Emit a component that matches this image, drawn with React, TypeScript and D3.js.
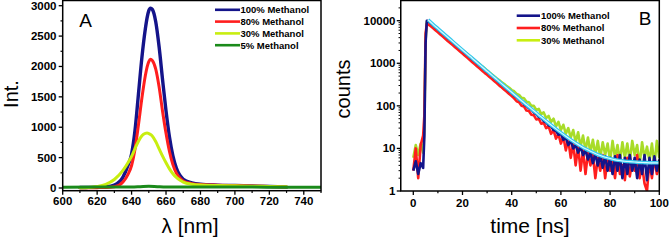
import React from "react";
import * as d3 from "d3";

// ---------- Panel A data ----------
const WL = [610,615,620,625,630,635,638,640,642,644,646,648,649,650,651,652,654,656,658,660,662,664,666,668,670,675,680,690,700,710,720,730];
const M100 = [8,10,12,20,50,180,380,560,950,1550,2150,2620,2800,2920,2960,2940,2740,2320,1780,1270,840,530,330,210,145,85,62,48,40,32,24,15];
const M80 = [5,5,6,8,20,100,230,370,640,1040,1480,1850,1990,2080,2120,2100,1960,1660,1260,900,600,385,245,165,115,72,56,46,40,34,26,18];
const M30 = [6,10,25,60,140,290,420,520,650,770,860,900,905,895,880,855,765,645,525,415,315,235,175,130,98,62,48,40,35,30,25,20];
const WL5 = [600,620,640,645,650,655,660,680,700,720,750];
const M5 = [14,15,17,22,28,22,17,15,15,14,14];

const A_X_TICKS = [600,620,640,660,680,700,720,740];
const A_X_MINOR = [610,630,650,670,690,710,730,750];
const A_Y_TICKS = [0,500,1000,1500,2000,2500,3000];
const A_Y_MINOR = [250,750,1250,1750,2250,2750];
const A_LEGEND = ["100% Methanol","80% Methanol","30% Methanol","5% Methanol"];

// ---------- Panel B data ----------
const T = [0,1,2,3,4,4.5,5,5.5,6,7,8,9,10,11,12,13,14,15,16,17,18,19,20,21,22,23,24,25,26,27,28,29,30,31,32,33,34,35,36,37,38,39,40,41,42,43,44,45,46,47,48,49,50,51,52,53,54,55,56,57,58,59,60,61,62,63,64,65,66,67,68,69,70,71,72,73,74,75,76,77,78,79,80,81,82,83,84,85,86,87,88,89,90,91,92,93,94,95,96,97,98,99,100];
const B100 = [3,5,2.5,4.5,3.5,20,3000,10000,9800,
  8800,7900,7000,6300,5600,5000,4450,3950,3550,3150,2800,2500,2230,1990,1760,1580,1400,1250,1120,990,890,790,700,630,560,500,445,400,350,318,280,252,222,200,176,160,140,127,110,100,88,82,70,64,55,52,44,41,35,33,27,26,21,22,16,18,12,15,10,12,8,11,7,9,5.5,8,4.5,7.5,4,7,3.5,6.5,3,6,2.5,6.5,3,7,2,6,2.5,7,3,6,2,5.5,2.5,7,1.8,6,2.5,6.5,3,5.5];
const B80 = [3,10,2,12,20,60,5000,8500,8200,
  7500,6700,5950,5350,4750,4250,3780,3350,3000,2680,2380,2120,1890,1690,1500,1340,1190,1060,950,840,755,670,595,535,475,425,378,340,298,270,238,214,189,170,150,128,122,100,96,78,76,62,60,48,50,38,40,30,33,22,27,17,22,13,19,9,16,6,13,4,11,3,9,2.5,8,4,7,2,6,3,7,2,6,3,5,2,7,2.5,4,1.8,6,2.2,5,3,7,2,4,1.5,1.0,5,2,6,2.5,4];
const B30 = [6,12,7,13,8,30,3500,9500,9600,
  8700,7800,7000,6250,5600,5000,4480,4000,3580,3200,2860,2560,2290,2050,1830,1640,1470,1310,1180,1050,945,845,760,680,610,545,490,440,400,355,325,290,265,235,220,190,180,155,150,125,122,100,100,80,85,64,70,52,58,42,50,33,42,27,36,22,30,18,27,14,24,11,20,9,18,8,16,7,15,6,14,7,13,5,15,6,12,5,14,6,13,5,15,7,12,4,14,6,11,5,13,4,15,6];
const FT = [6,8,10,12,14,16,18,20,22,24,26,28,30,32,34,36,38,40,42,44,46,48,50,52,54,56,58,60,62,64,66,68,70,72,74,76,78,80,82,84,86,88,90,92,94,96,98,100];
const FIT = [10500,8200,6500,5150,4100,3250,2580,2050,1630,1300,1030,820,650,520,412,328,262,208,166,132,106,85,68,54.5,44,35.5,28.8,23.5,19.3,16,13.4,11.4,9.8,8.6,7.6,6.8,6.2,5.8,5.4,5.2,5.0,4.9,4.8,4.7,4.65,4.6,4.6,4.6];

const B_X_TICKS = [0,20,40,60,80,100];
const B_X_MINOR = [10,30,50,70,90];
const B_Y_TICKS = [1,10,100,1000,10000];
const B_LEGEND = ["100% Methanol","80% Methanol","30% Methanol"];

const NAVY = "#14148a";
const RED = "#ff1e1e";
const YEL = "#c8ee10";
const GRN = "#1a8a1a";
const FONT = "'Liberation Sans', Arial, sans-serif";

export default function App() {
  // Panel A scales
  const ax = d3.scaleLinear().domain([600, 750]).range([62.7, 321]);
  const ay = d3.scaleLinear().domain([0, 3000]).range([188, 5.7]);
  const aTop = 0.5, aBot = 190.7;
  const lineA = (xs: number[], ys: number[]) =>
    d3.line<number>().x((_, i) => ax(xs[i])).y((v) => ay(v)).curve(d3.curveMonotoneX)(ys) || "";

  // Panel B scales
  const bx = d3.scaleLinear().domain([0, 100]).range([413.3, 659.3]);
  const by = d3.scaleLog().domain([1, 10000]).range([191, 20.7]);
  const bLeft = bx(-5.1), bRight = bx(100), bTop = 0.5, bBot = 191;
  const lineB = (xs: number[], ys: number[], smooth = false) =>
    d3.line<number>().x((_, i) => bx(xs[i])).y((v) => by(v)).curve(smooth ? d3.curveMonotoneX : d3.curveLinear)(ys) || "";

  const bMinor: number[] = [];
  B_Y_TICKS.forEach((d) => { for (let k = 2; k <= 9; k++) { const v = d * k; if (by(v) > bTop) bMinor.push(v); } });

  const tickText = { fontFamily: FONT, fontWeight: 700, fontSize: 11.5, fill: "#000" } as const;
  const legText = { fontFamily: FONT, fontWeight: 700, fontSize: 9.5, fill: "#000" } as const;
  const titleText = { fontFamily: FONT, fontSize: 21, fill: "#000" } as const;

  return (
    <svg width={669} height={240} style={{ position: "absolute", left: 0, top: 0, background: "#fff" }}>
      <defs>
        <clipPath id="clipA"><rect x={ax(600)} y={aTop} width={ax(750) - ax(600)} height={aBot - aTop} /></clipPath>
        <clipPath id="clipB"><rect x={bLeft} y={bTop} width={bRight - bLeft} height={bBot - bTop} /></clipPath>
      </defs>
      <rect width={669} height={240} fill="#fff" />

      {/* ---------- Panel A ---------- */}
      <g clipPath="url(#clipA)" fill="none" strokeWidth={3} strokeLinejoin="round" strokeLinecap="round">
        <path d={lineA(WL, M100)} stroke={NAVY} strokeWidth={3.4} />
        <path d={lineA(WL, M80)} stroke={RED} />
        <path d={lineA(WL, M30)} stroke={YEL} />
        <path d={lineA(WL5, M5)} stroke={GRN} />
      </g>
      <rect x={ax(600)} y={aTop} width={ax(750) - ax(600)} height={aBot - aTop} fill="none" stroke="#000" strokeWidth={1.5} />
      {A_X_TICKS.map((t) => (
        <g key={"ax" + t}>
          <line x1={ax(t)} x2={ax(t)} y1={aBot} y2={aBot + 4} stroke="#000" strokeWidth={1.3} />
          <text x={ax(t)} y={205} textAnchor="middle" {...tickText}>{t}</text>
        </g>
      ))}
      {A_X_MINOR.map((t) => (
        <line key={"axm" + t} x1={ax(t)} x2={ax(t)} y1={aBot} y2={aBot + 2.2} stroke="#000" strokeWidth={1.2} />
      ))}
      {A_Y_TICKS.map((t) => (
        <g key={"ay" + t}>
          <line x1={ax(600) - 4} x2={ax(600)} y1={ay(t)} y2={ay(t)} stroke="#000" strokeWidth={1.3} />
          <text x={56.5} y={ay(t) + 4} textAnchor="end" {...tickText}>{t}</text>
        </g>
      ))}
      {A_Y_MINOR.map((t) => (
        <line key={"aym" + t} x1={ax(600) - 2.2} x2={ax(600)} y1={ay(t)} y2={ay(t)} stroke="#000" strokeWidth={1.2} />
      ))}
      <text x={85.5} y={27} textAnchor="middle" fontFamily={FONT} fontSize={19} fill="#000">A</text>
      {A_LEGEND.map((s, i) => {
        const y = 9.8 + i * 11.8;
        return (
          <g key={s}>
            <line x1={215} x2={240} y1={y} y2={y} stroke={[NAVY, RED, YEL, GRN][i]} strokeWidth={2.6} />
            <text x={240.5} y={y + 3.4} {...legText}>{s}</text>
          </g>
        );
      })}
      <text transform="translate(18,94) rotate(-90)" textAnchor="middle" {...titleText} fontSize={20}>Int.</text>
      <text x={190} y={233} textAnchor="middle" {...titleText}>λ [nm]</text>

      {/* ---------- Panel B ---------- */}
      <g clipPath="url(#clipB)" fill="none" strokeWidth={2.6} strokeLinejoin="round">
        <path d={lineB(T, B30)} stroke="#a8dc28" />
        <path d={lineB(T, B80)} stroke={RED} />
        <path d={lineB(T, B100)} stroke={NAVY} />
        <path d={lineB(FT, FIT, true)} stroke="#36c8ee" strokeWidth={3.6} />
        <path d={lineB(FT, FIT, true)} stroke="#d8f8ff" strokeWidth={1.2} />
      </g>
      <rect x={bLeft} y={bTop} width={bRight - bLeft} height={bBot - bTop} fill="none" stroke="#000" strokeWidth={1.5} />
      {B_X_TICKS.map((t) => (
        <g key={"bx" + t}>
          <line x1={bx(t)} x2={bx(t)} y1={bBot} y2={bBot + 4} stroke="#000" strokeWidth={1.3} />
          <text x={bx(t)} y={206.5} textAnchor="middle" {...tickText}>{t}</text>
        </g>
      ))}
      {B_X_MINOR.map((t) => (
        <line key={"bxm" + t} x1={bx(t)} x2={bx(t)} y1={bBot} y2={bBot + 2.2} stroke="#000" strokeWidth={1.2} />
      ))}
      {B_Y_TICKS.map((t) => (
        <g key={"by" + t}>
          <line x1={bLeft - 4} x2={bLeft} y1={by(t)} y2={by(t)} stroke="#000" strokeWidth={1.3} />
          <text x={395.5} y={by(t) + 4} textAnchor="end" {...tickText}>{t}</text>
        </g>
      ))}
      {bMinor.map((t) => (
        <line key={"bym" + t} x1={bLeft - 2.2} x2={bLeft} y1={by(t)} y2={by(t)} stroke="#000" strokeWidth={1} />
      ))}
      <text x={645} y={25} textAnchor="middle" fontFamily={FONT} fontSize={19} fill="#000">B</text>
      {B_LEGEND.map((s, i) => {
        const y = 15.7 + i * 12.3;
        return (
          <g key={s}>
            <line x1={516.7} x2={540} y1={y} y2={y} stroke={[NAVY, RED, YEL][i]} strokeWidth={2.6} />
            <text x={541} y={y + 3.4} {...legText}>{s}</text>
          </g>
        );
      })}
      <text transform="translate(350,89) rotate(-90)" textAnchor="middle" {...titleText} fontSize={20}>counts</text>
      <text x={530} y={233} textAnchor="middle" {...titleText}>time [ns]</text>
    </svg>
  );
}
